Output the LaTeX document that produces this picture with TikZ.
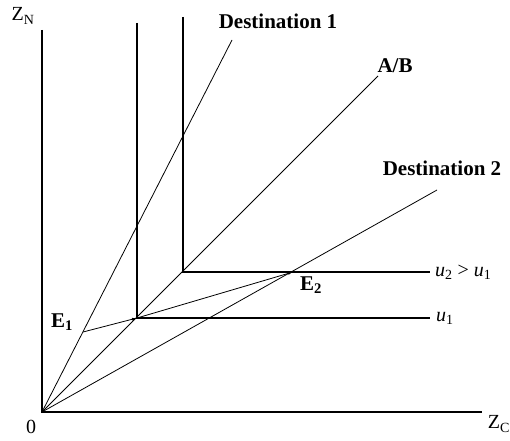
\documentclass[tikz,border=0pt]{standalone}
\usepackage{fontspec}
\setmainfont{Liberation Serif}
\usetikzlibrary{arrows.meta}

\begin{document}
\begin{tikzpicture}[x=1pt,y=1pt,
    axis/.style={line width=1.2pt},
    ray/.style={line width=0.8pt},
    lvl/.style={line width=1.2pt},
    move/.style={line width=0.8pt,-{Latex[length=5pt,width=3pt]}},
    lbl/.style={font=\fontsize{21}{24}\selectfont\bfseries,inner sep=0pt},
    txt/.style={font=\fontsize{20}{24}\selectfont,inner sep=0pt}]
  \useasboundingbox (-42,-28) rectangle (468,412);
  % points
  \coordinate (O) at (0,0);
  \coordinate (ztop) at (0,382);
  \coordinate (cend) at (440,0);
  \coordinate (d1) at (190,372);
  \coordinate (ab) at (336,336);
  \coordinate (d2) at (395,222);
  \coordinate (C1) at (95,94);
  \coordinate (C2) at (141,140);
  \coordinate (v1) at (95,389);
  \coordinate (v2) at (141,395);
  \coordinate (h1) at (388,94);
  \coordinate (h2) at (388,140);
  \coordinate (E1) at (41,80);
  \coordinate (E2) at (251,140);
  % axes
  \draw[axis] (ztop) -- (O) -- (cend);
  \node[txt] (zn) at (-19,396) {Z\textsubscript{N}};
  \node[txt] (zc) at (457,-12) {Z\textsubscript{C}};
  \node[txt] (zero) at (-11,-15) {0};
  % rays
  \draw[ray] (O) -- (d1);
  \draw[ray] (O) -- (ab);
  \draw[ray] (O) -- (d2);
  \node[lbl] (dest1) at (236,391) {Destination 1};
  \node[lbl] (ablbl) at (353,346) {A/B};
  \node[lbl] (dest2) at (400,244) {Destination 2};
  % indifference curves
  \draw[lvl] (v1) -- (C1) -- (h1);
  \draw[lvl] (v2) -- (C2) -- (h2);
  \node[txt,anchor=west] (u1) at (h1) [xshift=6pt] {\textit{u}\textsubscript{1}};
  \node[txt,anchor=west] (u2) at (h2) [xshift=5pt] {\textit{u}\textsubscript{2} > \textit{u}\textsubscript{1}};
  % equilibria
  \draw[move] (E1) -- (C1);
  \draw[move] (C1) -- (E2);
  \node[lbl] (e1lbl) at (20,90) {E\textsubscript{1}};
  \node[lbl] (e2lbl) at (269,127) {E\textsubscript{2}};
\end{tikzpicture}
\end{document}
